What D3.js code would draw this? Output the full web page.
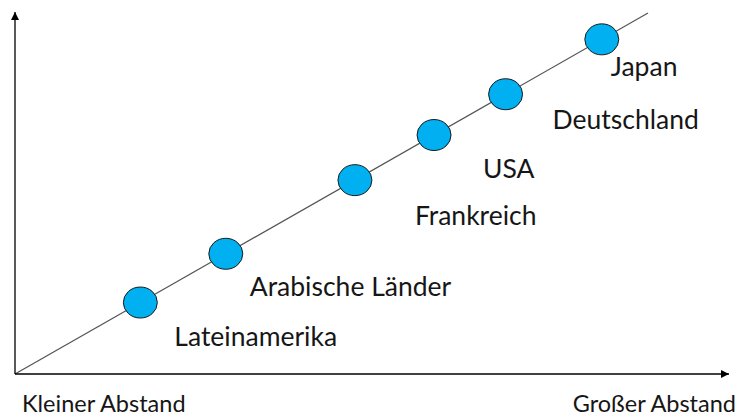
<!DOCTYPE html>
<html><head><meta charset="utf-8">
<script src="https://cdn.jsdelivr.net/npm/d3@7"></script>
<style>body{margin:0;background:#fff}svg{display:block}text{font-family:Lato,"Open Sans",sans-serif;fill:#161616}</style>
</head><body>
<svg id="c" width="737" height="416"></svg>
<script>
const countries = ["Lateinamerika","Arabische Länder","Frankreich","USA","Deutschland","Japan"];
const distance = [19.8, 33.3, 53.7, 66.2, 77.5, 92.7];
const axisLabels = ["Kleiner Abstand","Großer Abstand"];
// layout (label offsets from point, px)
const labelOffsets = [[34,43],[24,42],[60,45],[49,43],[47,35],[9,37]];

const svg = d3.select("#c");
const x = d3.scaleLinear().domain([0,100]).range([15,648]);
const y = d3.scaleLinear().domain([0,100]).range([374,13]);

const defs = svg.append("defs");
defs.append("marker").attr("id","ah").attr("viewBox","0 0 10 10").attr("refX",10).attr("refY",5)
  .attr("markerWidth",9).attr("markerHeight",8).attr("markerUnits","userSpaceOnUse").attr("orient","auto")
  .append("path").attr("d","M0,0L10,5L0,10Z").attr("fill","#000");

// diagonal
svg.append("line").attr("x1",x(0)).attr("y1",y(0)).attr("x2",x(100)).attr("y2",y(100))
  .attr("stroke","#555").attr("stroke-width",1.2);
// axes
svg.append("line").attr("x1",x(0)).attr("y1",y(0)).attr("x2",729).attr("y2",y(0))
  .attr("stroke","#000").attr("stroke-width",1.3).attr("marker-end","url(#ah)");
svg.append("line").attr("x1",x(0)).attr("y1",y(0)).attr("x2",x(0)).attr("y2",12)
  .attr("stroke","#000").attr("stroke-width",1.3).attr("marker-end","url(#ah)");

svg.selectAll("ellipse.pt").data(distance).join("ellipse").attr("class","pt")
  .attr("cx",d=>x(d)).attr("cy",d=>y(d)).attr("rx",17).attr("ry",15.5)
  .attr("fill","#00B0F0").attr("stroke","#1a1a1a").attr("stroke-width",1);

svg.selectAll("text.lab").data(countries).join("text").attr("class","lab")
  .attr("x",(d,i)=>x(distance[i])+labelOffsets[i][0])
  .attr("y",(d,i)=>y(distance[i])+labelOffsets[i][1])
  .attr("font-size",26.5).text(d=>d);

svg.append("text").attr("x",22).attr("y",412).attr("font-size",23.5).text(axisLabels[0]);
svg.append("text").attr("x",736).attr("y",412).attr("text-anchor","end").attr("font-size",23.5).text(axisLabels[1]);
</script>
</body></html>
